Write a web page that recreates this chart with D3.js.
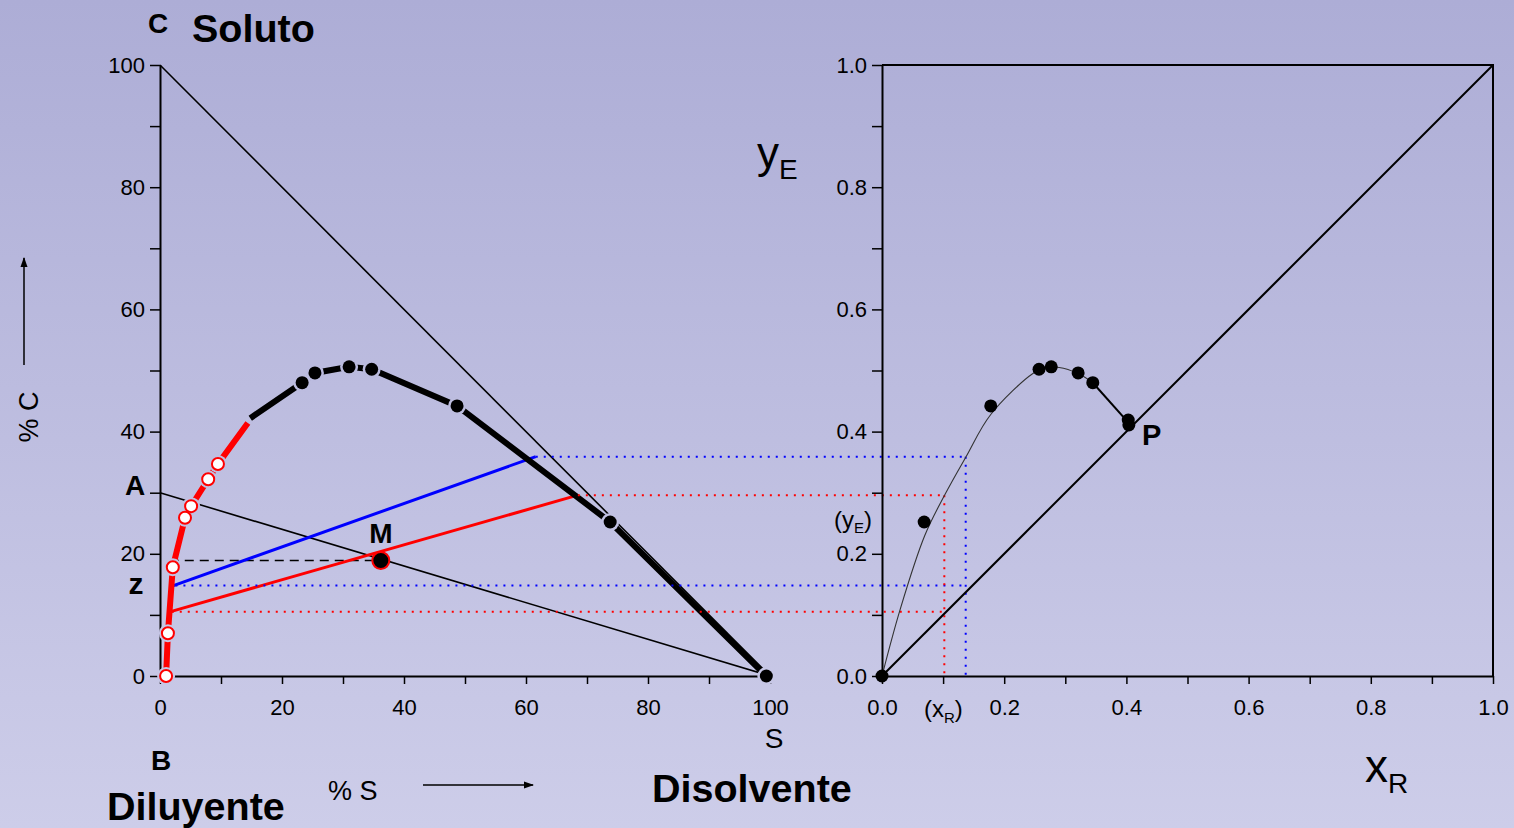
<!DOCTYPE html>
<html><head><meta charset="utf-8">
<script src="https://cdn.jsdelivr.net/npm/d3@7"></script>
<style>
html,body{margin:0;padding:0;overflow:hidden;}
svg{display:block;font-family:"Liberation Sans",Arial,sans-serif;}
</style></head>
<body>
<svg id="chart" width="1514" height="828"></svg>
<script>
// ---------- data ----------
const pctTicks = [0,10,20,30,40,50,60,70,80,90,100];
const fracTicks = [0,0.1,0.2,0.3,0.4,0.5,0.6,0.7,0.8,0.9,1.0];
// raffinate branch (open circles), % S and % C
const raffS = [1.0, 1.3, 2.1, 4.1, 5.1, 7.9, 9.5];
const raffC = [0.0, 7.0, 17.8, 25.9, 27.8, 32.2, 34.7];
const raffLineEnd = [14.4, 41.4];
// extract branch (filled dots)
const extStart = [14.8, 42.2];
const extS = [23.3, 25.4, 31.0, 34.7, 48.7, 73.8, 99.4];
const extC = [48.0, 49.6, 50.6, 50.2, 44.2, 25.2, 0.0];
// tie lines: [raffinate end, extract end]
const tieNames = ["blue","red"];
const tieRaffS = [2.2, 1.6];
const tieRaffC = [14.8, 10.5];
const tieExtS = [61.6, 68.5];
const tieExtC = [35.9, 29.6];
const tieXR = [0.137, 0.102];
// mixture point M and feed A
const pointM = [36.2, 18.9];
const pointA = 30;
// equilibrium diagram points
const eqX = [0.0, 0.069, 0.178, 0.257, 0.277, 0.321, 0.345, 0.403, 0.404];
const eqY = [0.0, 0.252, 0.442, 0.502, 0.506, 0.496, 0.480, 0.419, 0.411];
// smooth equilibrium curve
const curveX = [0.0, 0.03, 0.07, 0.103, 0.137, 0.178, 0.247, 0.267, 0.29, 0.321, 0.345];
const curveY = [0.0, 0.11, 0.23, 0.297, 0.358, 0.428, 0.495, 0.504, 0.505, 0.495, 0.480];
const curveEnd = [0.404, 0.414];

// ---------- setup ----------
const svg = d3.select("#chart");
const W = 1514, H = 828;
const bgTop = "#adadd6", bgBot = "#cdcde9";
const defs = svg.append("defs");
const grad = defs.append("linearGradient").attr("id","bg").attr("x1",0).attr("y1",0).attr("x2",0).attr("y2",1);
grad.append("stop").attr("offset","0%").attr("stop-color",bgTop);
grad.append("stop").attr("offset","100%").attr("stop-color",bgBot);
svg.append("rect").attr("width",W).attr("height",H).attr("fill","url(#bg)");
const bgAt = d3.interpolateRgb(bgTop, bgBot);
const halo = y => bgAt(y / H);

defs.append("marker").attr("id","arr").attr("viewBox","0 0 10 10").attr("refX",9).attr("refY",5)
  .attr("markerWidth",7).attr("markerHeight",7).attr("orient","auto-start-reverse")
  .append("path").attr("d","M0,1.5 L10,5 L0,8.5 Z").attr("fill","#000");

const xL = d3.scaleLinear().domain([0,100]).range([160,770]);
const yL = d3.scaleLinear().domain([0,100]).range([676,65]);
const xR = d3.scaleLinear().domain([0,1]).range([882,1493]);
const yR = d3.scaleLinear().domain([0,1]).range([676,65]);

const tickFont = 22;
function styleAxis(g){
  g.attr("font-family",null).attr("font-size",null);
  g.selectAll("path.domain").attr("stroke","#000").attr("stroke-width",2);
  g.selectAll(".tick line").attr("stroke","#000").attr("stroke-width",1.5);
  g.selectAll(".tick text").attr("fill","#000").style("font-size",tickFont+"px")
   .style("font-family",'"Liberation Sans",Arial,sans-serif');
}

// ---------- left triangle diagram ----------
const gl = svg.append("g");
gl.append("g").attr("transform","translate(0,"+yL(0)+")")
  .call(d3.axisBottom(xL).tickValues(pctTicks).tickSize(8).tickSizeOuter(0).tickPadding(15)
    .tickFormat(d => d % 20 === 0 ? d : ""))
  .call(styleAxis);
gl.append("g").attr("transform","translate("+xL(0)+",0)")
  .call(d3.axisLeft(yL).tickValues(pctTicks).tickSize(10).tickSizeOuter(0).tickPadding(5)
    .tickFormat(d => d % 20 === 0 ? d : ""))
  .call(styleAxis);

const line = d3.line().x(d => xL(d[0])).y(d => yL(d[1]));
// C-S hypotenuse
gl.append("path").attr("d", line([[0,100],[100,0]])).attr("stroke","#000").attr("stroke-width",1.6).attr("fill","none");
// A-S line
gl.append("path").attr("d", line([[0,pointA],[100,0]])).attr("stroke","#000").attr("stroke-width",1.6).attr("fill","none");
// dashed M level
gl.append("path").attr("d", line([[1.6,pointM[1]],[pointM[0],pointM[1]]])).attr("stroke","#000")
  .attr("stroke-width",1.6).attr("stroke-dasharray","9,6").attr("fill","none");

// dotted projection lines
const dotted = svg.append("g");
tieNames.forEach((c,i) => {
  const xr = xR(tieXR[i]);
  const segs = [
    [[xL(tieRaffS[i])+2, yL(tieRaffC[i])],[xr, yL(tieRaffC[i])]],
    [[xL(tieExtS[i]), yL(tieExtC[i])],[xr, yL(tieExtC[i])]],
    [[xr, yL(tieExtC[i])],[xr, yL(0)]]
  ];
  segs.forEach(s => dotted.append("line").attr("x1",s[0][0]).attr("y1",s[0][1]).attr("x2",s[1][0]).attr("y2",s[1][1])
    .attr("stroke", c==="blue" ? "#0000ff" : "#ff0000").attr("stroke-width",2).attr("stroke-dasharray","2,6"));
});

// tie lines
tieNames.forEach((c,i) => {
  gl.append("path").attr("d", line([[tieRaffS[i],tieRaffC[i]],[tieExtS[i],tieExtC[i]]]))
    .attr("stroke", c==="blue" ? "#0000ff" : "#ff0000").attr("stroke-width",3).attr("fill","none");
});

// binodal curve
const raffPts = raffS.map((s,i)=>[s,raffC[i]]).concat([raffLineEnd]);
const extPts = [extStart].concat(extS.map((s,i)=>[s,extC[i]]));
gl.append("path").attr("d", line(raffPts)).attr("stroke","#ff0000").attr("stroke-width",6).attr("fill","none");
gl.append("path").attr("d", line(extPts)).attr("stroke","#000").attr("stroke-width",6).attr("fill","none");
// markers with halos
raffS.forEach((s,i) => {
  const cx = xL(s), cy = yL(raffC[i]);
  gl.append("circle").attr("cx",cx).attr("cy",cy).attr("r",9).attr("fill",halo(cy));
});
extS.forEach((s,i) => {
  const cx = xL(s), cy = yL(extC[i]);
  gl.append("circle").attr("cx",cx).attr("cy",cy).attr("r",9).attr("fill",halo(cy));
});
raffS.forEach((s,i) => {
  gl.append("circle").attr("cx",xL(s)).attr("cy",yL(raffC[i])).attr("r",6)
    .attr("fill","#fff").attr("stroke","#ff0000").attr("stroke-width",2);
});
extS.forEach((s,i) => {
  gl.append("circle").attr("cx",xL(s)).attr("cy",yL(extC[i])).attr("r",6.5).attr("fill","#000");
});
// M point
gl.append("circle").attr("cx",xL(pointM[0])).attr("cy",yL(pointM[1])).attr("r",8.5)
  .attr("fill","#000").attr("stroke","#ff0000").attr("stroke-width",2);

// ---------- right equilibrium diagram ----------
const gr = svg.append("g");
gr.append("g").attr("transform","translate(0,"+yR(0)+")")
  .call(d3.axisBottom(xR).tickValues(fracTicks).tickSize(8).tickSizeOuter(0).tickPadding(15)
    .tickFormat(d => Math.round(d*10) % 2 === 0 ? d3.format(".1f")(d) : ""))
  .call(styleAxis);
gr.append("g").attr("transform","translate("+xR(0)+",0)")
  .call(d3.axisLeft(yR).tickValues(fracTicks).tickSize(10).tickSizeOuter(0).tickPadding(5)
    .tickFormat(d => Math.round(d*10) % 2 === 0 ? d3.format(".1f")(d) : ""))
  .call(styleAxis);
gr.append("path").attr("d", "M"+xR(0)+","+yR(1)+"H"+xR(1)+"V"+yR(0)).attr("stroke","#000").attr("stroke-width",2).attr("fill","none");
const lineR = d3.line().x(d => xR(d[0])).y(d => yR(d[1]));
gr.append("path").attr("d", lineR([[0,0],[1,1]])).attr("stroke","#000").attr("stroke-width",2).attr("fill","none");
const curvePts = curveX.map((x,i)=>[x,curveY[i]]);
gr.append("path").attr("d", d3.line().x(d => xR(d[0])).y(d => yR(d[1])).curve(d3.curveCatmullRom.alpha(0.5))(curvePts))
  .attr("stroke","#333").attr("stroke-width",1.1).attr("fill","none");
gr.append("path").attr("d", lineR([curvePts[curvePts.length-1], curveEnd]))
  .attr("stroke","#000").attr("stroke-width",2).attr("fill","none");
eqX.forEach((x,i) => {
  gr.append("circle").attr("cx",xR(x)).attr("cy",yR(eqY[i])).attr("r",6.5).attr("fill","#000");
});

// ---------- texts ----------
const T = (x,y,txt,size,weight,anchor) => svg.append("text").attr("x",x).attr("y",y)
  .attr("font-size",size).attr("font-weight",weight||"normal").attr("text-anchor",anchor||"start")
  .attr("fill","#000").text(txt);
T(158,33,"C",28,"bold","middle");
T(192,42,"Soluto",39.5,"bold");
T(161,770,"B",28,"bold","middle");
T(107,820,"Diluyente",39.5,"bold");
T(328,800,"% S",27,"normal");
T(652,802,"Disolvente",39.5,"bold");
T(774,748,"S",28,"normal","middle");
T(135,495,"A",28,"bold","middle");
T(136,594,"z",30,"bold","middle");
T(381,543,"M",28,"bold","middle");
T(1142,445,"P",29,"bold");
svg.append("text").attr("transform","translate(38,417) rotate(-90)").attr("text-anchor","middle")
  .attr("font-size",27).attr("fill","#000").text("% C");
svg.append("line").attr("x1",24).attr("y1",365).attr("x2",24).attr("y2",258)
  .attr("stroke","#000").attr("stroke-width",1.5).attr("marker-end","url(#arr)");
svg.append("line").attr("x1",423).attr("y1",785).attr("x2",533).attr("y2",785)
  .attr("stroke","#000").attr("stroke-width",1.5).attr("marker-end","url(#arr)");

const yE = svg.append("text").attr("x",757).attr("y",168).attr("font-size",44).attr("fill","#000");
yE.append("tspan").text("y");
yE.append("tspan").attr("font-size",28).attr("dy",11).text("E");
const xRl = svg.append("text").attr("x",1365).attr("y",782).attr("font-size",46).attr("fill","#000");
xRl.append("tspan").text("x");
xRl.append("tspan").attr("font-size",28).attr("dy",11).text("R");

const yEs = svg.append("text").attr("x",834).attr("y",528).attr("font-size",24).attr("fill","#000");
yEs.append("tspan").text("(y");
yEs.append("tspan").attr("font-size",15).attr("dy",5).text("E");
yEs.append("tspan").attr("dy",-5).text(")");
const xRs = svg.append("text").attr("x",924).attr("y",717).attr("font-size",24).attr("fill","#000");
xRs.append("tspan").text("(x");
xRs.append("tspan").attr("font-size",15).attr("dy",6).text("R");
xRs.append("tspan").attr("dy",-6).text(")");
</script>
</body></html>
